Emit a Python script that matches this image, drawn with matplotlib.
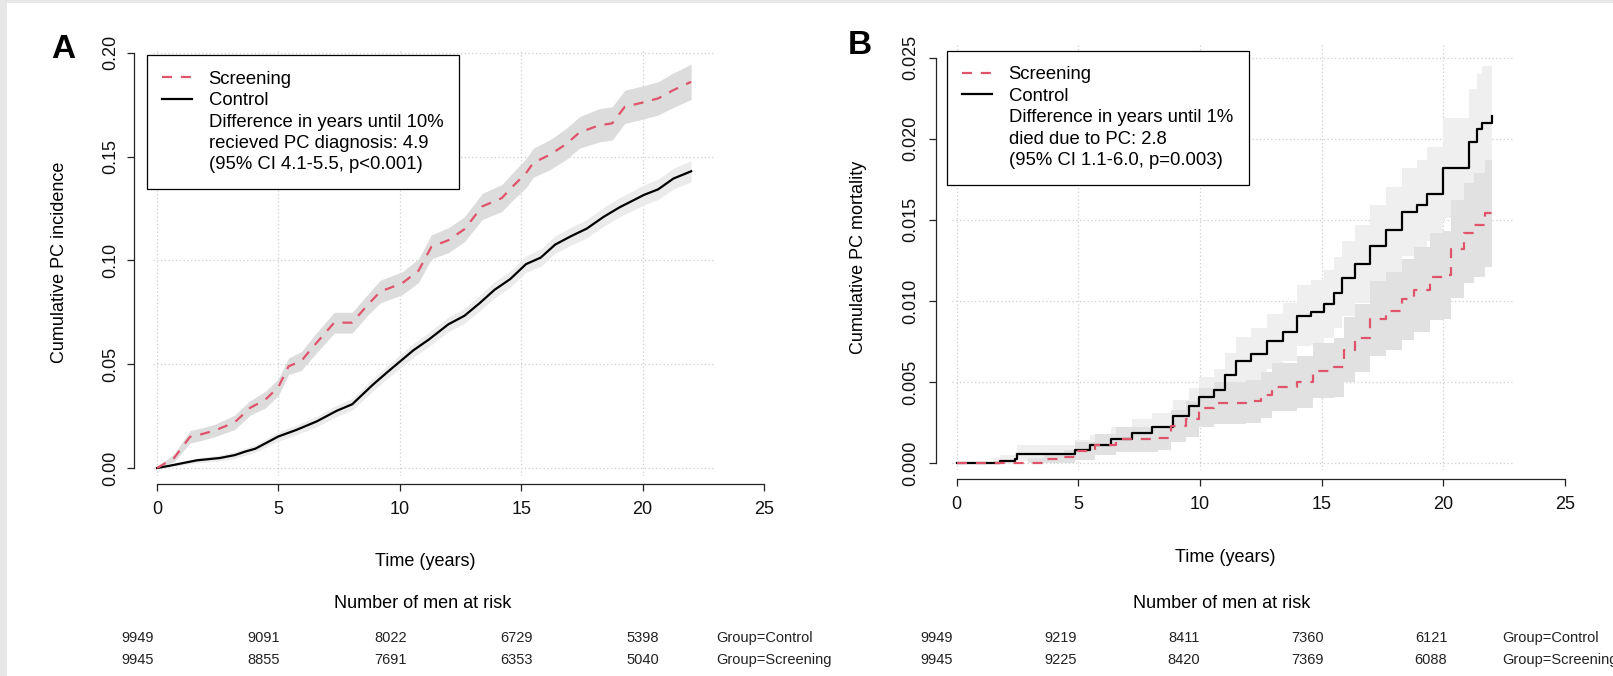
import matplotlib
matplotlib.use("Agg")
import matplotlib.pyplot as plt
from matplotlib.lines import Line2D
from matplotlib.patches import Rectangle
from matplotlib.ticker import FormatStrFormatter

plt.rcParams["font.family"] = ["Liberation Sans", "DejaVu Sans"]

W, H = 1613, 676
RED = "#DF536B"

# ---------------- panel A: cumulative PC incidence ----------------
a_scr_t = [0.0, 0.7, 1.36, 1.74, 2.37, 3.2, 3.84, 4.47, 5.0, 5.42, 5.94, 6.46, 7.3, 8.04,
           8.67, 9.2, 10.1, 10.77, 11.3, 12.0, 12.66, 13.4, 14.2, 14.65, 15.2, 15.5, 16.2,
           16.85, 17.4, 18.2, 18.75, 19.27, 20.0, 20.64, 21.27, 22.0]
a_scr_v = [0.0, 0.0048, 0.015, 0.016, 0.018, 0.022, 0.029, 0.033, 0.039, 0.049, 0.0515,
           0.0588, 0.070, 0.070, 0.0785, 0.085, 0.089, 0.095, 0.1065, 0.1097, 0.115, 0.126,
           0.130, 0.1356, 0.142, 0.147, 0.151, 0.156, 0.1616, 0.165, 0.166, 0.174, 0.176,
           0.178, 0.182, 0.186]
a_scr_lo = [0.0, 0.0030, 0.012, 0.013, 0.015, 0.0185, 0.0255, 0.029, 0.035, 0.045, 0.047,
            0.054, 0.065, 0.065, 0.0735, 0.0795, 0.0835, 0.0893, 0.1007, 0.1037, 0.109,
            0.1197, 0.1235, 0.129, 0.135, 0.140, 0.1438, 0.1485, 0.154, 0.157, 0.158, 0.166,
            0.168, 0.170, 0.1737, 0.1775]
a_scr_hi = [0.0005, 0.0068, 0.018, 0.019, 0.021, 0.0255, 0.0325, 0.037, 0.043, 0.053, 0.056,
            0.0636, 0.075, 0.075, 0.0835, 0.0905, 0.0945, 0.1007, 0.1123, 0.1157, 0.121,
            0.1323, 0.1365, 0.1422, 0.149, 0.154, 0.1582, 0.1635, 0.1692, 0.173, 0.174,
            0.182, 0.184, 0.186, 0.1903, 0.1945]

a_ctl_t = [0.0, 0.48, 1.64, 2.58, 3.2, 3.63, 4.05, 5.0, 5.73, 6.57, 7.41, 8.04, 8.88, 9.5,
           10.03, 10.56, 11.2, 12.0, 12.66, 13.3, 13.9, 14.55, 15.2, 15.8, 16.4, 17.06,
           17.7, 18.4, 19.06, 19.6, 20.05, 20.64, 21.27, 22.0]
a_ctl_v = [0.0, 0.001, 0.0037, 0.0048, 0.0062, 0.0079, 0.0093, 0.0152, 0.0183, 0.0224,
           0.0276, 0.0307, 0.040, 0.0463, 0.0515, 0.0567, 0.0619, 0.0692, 0.0733, 0.0795,
           0.0858, 0.091, 0.0982, 0.1013, 0.1076, 0.1117, 0.1153, 0.121, 0.1256, 0.1288,
           0.1315, 0.1342, 0.1394, 0.1429]
a_ctl_lo = [0.0, 0.0004, 0.0025, 0.0034, 0.0046, 0.0062, 0.0075, 0.0130, 0.0160, 0.0199,
            0.0249, 0.0279, 0.0370, 0.0432, 0.0483, 0.0534, 0.0585, 0.0657, 0.0697, 0.0758,
            0.0820, 0.0871, 0.0942, 0.0972, 0.1034, 0.1074, 0.1109, 0.1165, 0.1210, 0.1241,
            0.1267, 0.1293, 0.1344, 0.1378]
a_ctl_hi = [0.0003, 0.0016, 0.0049, 0.0062, 0.0078, 0.0096, 0.0111, 0.0174, 0.0206, 0.0249,
            0.0303, 0.0335, 0.0430, 0.0494, 0.0547, 0.0600, 0.0653, 0.0727, 0.0769, 0.0832,
            0.0896, 0.0949, 0.1022, 0.1054, 0.1118, 0.1160, 0.1197, 0.1255, 0.1302, 0.1335,
            0.1363, 0.1391, 0.1444, 0.1480]

# ---------------- panel B: cumulative PC mortality ----------------
b_ctl_t = [0.0, 1.5, 1.77, 2.4, 2.5, 4.2, 4.86, 5.5, 6.35, 7.2, 8.05, 8.9, 9.55, 9.97, 10.6,
           11.04, 11.47, 12.1, 12.75, 13.4, 14.0, 14.56, 15.1, 15.5, 15.84, 16.37, 17.0,
           17.65, 18.29, 18.9, 19.35, 19.99, 20.74, 21.05, 21.38, 21.6, 22.0]
b_ctl_v = [0.0, 0.0, 0.00013, 0.00027, 0.00056, 0.00056, 0.00082, 0.0011, 0.00146, 0.00186,
           0.0022, 0.0029, 0.0035, 0.0041, 0.0045, 0.0054, 0.0063, 0.0067, 0.0075, 0.0081,
           0.0091, 0.0093, 0.0098, 0.0105, 0.0114, 0.0123, 0.0134, 0.0144, 0.0155, 0.0159,
           0.0166, 0.0182, 0.0182, 0.0198, 0.0206, 0.021, 0.0214]
b_ctl_lo = [0.0, 0.0, 0.0, 0.0, 0.0001, 0.0001, 0.0003, 0.0005, 0.0008, 0.0011, 0.0013,
            0.0019, 0.0024, 0.0029, 0.0032, 0.0040, 0.0048, 0.0051, 0.0058, 0.0063, 0.0072,
            0.0073, 0.0077, 0.0083, 0.0091, 0.0099, 0.0109, 0.0118, 0.0128, 0.0131, 0.0137,
            0.0151, 0.0151, 0.0165, 0.0172, 0.0175, 0.0179]
b_ctl_hi = [0.0, 0.0003, 0.0005, 0.0007, 0.0011, 0.0011, 0.0014, 0.0017, 0.0022, 0.0027,
            0.0031, 0.0039, 0.0046, 0.0053, 0.0058, 0.0068, 0.0078, 0.0083, 0.0092, 0.0099,
            0.0110, 0.0113, 0.0119, 0.0127, 0.0137, 0.0147, 0.0159, 0.0170, 0.0182, 0.0187,
            0.0195, 0.0213, 0.0213, 0.0231, 0.0240, 0.0245, 0.0250]

b_scr_t = [0.0, 2.94, 3.58, 4.43, 4.86, 5.7, 6.56, 7.63, 8.27, 8.8, 9.44, 9.97, 10.6, 11.9,
           12.5, 12.96, 14.0, 14.66, 15.5, 15.94, 16.37, 17.0, 17.65, 18.29, 18.8, 19.14,
           19.46, 19.99, 20.3, 20.84, 21.27, 21.7, 22.0]
b_scr_v = [0.0, 0.0, 0.00027, 0.00035, 0.00074, 0.00114, 0.00146, 0.00146, 0.00154, 0.0023,
           0.0027, 0.0034, 0.0037, 0.0038, 0.0042, 0.0047, 0.005, 0.0057, 0.0059, 0.007,
           0.0077, 0.0089, 0.0094, 0.0101, 0.0107, 0.0107, 0.0115, 0.0116, 0.0132, 0.0142,
           0.0147, 0.0154, 0.0154]
b_scr_lo = [0.0, 0.0, 0.0, 0.0, 0.0002, 0.0005, 0.0007, 0.0007, 0.0008, 0.0013, 0.0016,
            0.0022, 0.0024, 0.0025, 0.0028, 0.0032, 0.0034, 0.0040, 0.0041, 0.0050, 0.0056,
            0.0066, 0.0070, 0.0076, 0.0081, 0.0081, 0.0088, 0.0089, 0.0102, 0.0111, 0.0115,
            0.0121, 0.0121]
b_scr_hi = [0.0, 0.0003, 0.0006, 0.0008, 0.0013, 0.0018, 0.0022, 0.0022, 0.0023, 0.0033,
            0.0038, 0.0046, 0.0050, 0.0051, 0.0056, 0.0062, 0.0066, 0.0074, 0.0077, 0.0090,
            0.0098, 0.0112, 0.0118, 0.0126, 0.0133, 0.0133, 0.0142, 0.0143, 0.0162, 0.0173,
            0.0179, 0.0187, 0.0187]

# numbers at risk
risk_times = [0, 5, 10, 15, 20]
risk_a_control = [9949, 9091, 8022, 6729, 5398]
risk_a_screening = [9945, 8855, 7691, 6353, 5040]
risk_b_control = [9949, 9219, 8411, 7360, 6121]
risk_b_screening = [9945, 9225, 8420, 7369, 6088]

legend_a = ["Screening", "Control", "Difference in years until 10%",
            "recieved PC diagnosis: 4.9", "(95% CI 4.1-5.5, p<0.001)"]
legend_b = ["Screening", "Control", "Difference in years until 1%",
            "died due to PC: 2.8", "(95% CI 1.1-6.0, p=0.003)"]


def fx(x):
    return x / W


def fy(y):
    return 1 - y / H


def box(left, top, right, bottom):
    return [left / W, 1 - bottom / H, (right - left) / W, (bottom - top) / H]


fig = plt.figure(figsize=(W / 100, H / 100), dpi=100, facecolor="#e7e7e7")
fig.add_artist(Rectangle((fx(7), 0), 1 - fx(7), fy(3), transform=fig.transFigure,
                         facecolor="white", edgecolor="none", zorder=-5))


def setup_axes(ax, xlim, ylim, grid_right, yticks, yfmt, left_out, bottom_out, ypad):
    ax.set_facecolor("none")
    ax.set_xlim(*xlim)
    ax.set_ylim(*ylim)
    for s in ["top", "right"]:
        ax.spines[s].set_visible(False)
    ax.spines["left"].set_position(("outward", left_out))
    ax.spines["bottom"].set_position(("outward", bottom_out))
    ax.spines["left"].set_bounds(yticks[0], yticks[-1])
    ax.spines["bottom"].set_bounds(0, 25)
    for s in ["left", "bottom"]:
        ax.spines[s].set_linewidth(0.9)
        ax.spines[s].set_color("#222222")
    ax.set_xticks([0, 5, 10, 15, 20, 25])
    ax.set_yticks(yticks)
    ax.yaxis.set_major_formatter(FormatStrFormatter(yfmt))
    ax.tick_params(axis="both", length=5, width=0.9, color="#222222",
                   labelsize=13, labelcolor="#111111")
    ax.tick_params(axis="x", pad=7.5)
    ax.tick_params(axis="y", pad=ypad, labelrotation=90)
    plt.setp(ax.get_yticklabels(), va="center")
    # dotted grid like R's grid()
    ax.hlines(yticks, xlim[0], grid_right, colors="#cfcfcf", linestyles=(0, (1, 2)),
              linewidth=0.9, zorder=0)
    for xt in [0, 5, 10, 15, 20]:
        ax.axvline(xt, color="#cfcfcf", linestyle=(0, (1, 2)), linewidth=0.9, zorder=0)


def add_legend(ax, labels, left, top):
    handles = [Line2D([], [], color=RED, lw=1.6, dashes=(4.5, 4)),
               Line2D([], [], color="black", lw=1.6)]
    handles += [Line2D([], [], color="none") for _ in range(3)]
    leg = ax.legend(handles, labels, loc="upper left", bbox_to_anchor=(fx(left), fy(top)),
                    bbox_transform=fig.transFigure, borderaxespad=0, fontsize=13.3,
                    handlelength=1.6, handletextpad=0.9, borderpad=0.85,
                    labelspacing=0.24, fancybox=False, framealpha=1, edgecolor="black")
    leg.get_frame().set_linewidth(0.9)
    leg.set_zorder(10)


def add_risk(ax_box, xlim, ctl, scr):
    axr = fig.add_axes(ax_box)
    axr.set_xlim(*xlim)
    axr.set_ylim(0, 1)
    axr.axis("off")
    for t, c, s in zip(risk_times, ctl, scr):
        axr.text(t, 0.68, str(c), ha="center", va="center", fontsize=10.5, color="#222222")
        axr.text(t, 0.29, str(s), ha="center", va="center", fontsize=10.5, color="#222222")
    axr.text(22.9, 0.68, "Group=Control", ha="left", va="center", fontsize=10.5,
             color="#222222")
    axr.text(22.9, 0.29, "Group=Screening", ha="left", va="center", fontsize=10.5,
             color="#222222")


# ---- panel A
axA = fig.add_axes(box(153, 49, 766.4, 476))
setup_axes(axA, (-0.165, 25.1), (-0.00385, 0.2018), 22.94,
           [0, 0.05, 0.10, 0.15, 0.20], "%.2f", 13.7, 5.8, 5.5)
axA.fill_between(a_ctl_t, a_ctl_lo, a_ctl_hi, color="#ebebeb", lw=0, zorder=1)
axA.fill_between(a_scr_t, a_scr_lo, a_scr_hi, color="#dcdcdc", lw=0, zorder=1)
axA.plot(a_ctl_t, a_ctl_v, color="black", lw=1.6, zorder=3)
axA.plot(a_scr_t, a_scr_v, color=RED, lw=1.6, dashes=(4.5, 4), zorder=3)
add_legend(axA, legend_a, 146.7, 55)

fig.text(fx(60), fy(262), "Cumulative PC incidence", rotation=90, ha="center",
         va="center", fontsize=13)
fig.text(fx(425), fy(561), "Time (years)", ha="center", va="center", fontsize=13)
fig.text(fx(423), fy(604), "Number of men at risk", ha="center", va="center", fontsize=13)
fig.text(fx(63), fy(50), "A", ha="center", va="center", fontsize=24, fontweight="bold")
add_risk(box(137.5, 620, 137.5 + 25 * 25.28, 676), (0, 25), risk_a_control, risk_a_screening)

# ---- panel B
axB = fig.add_axes(box(952, 44, 1567.4, 470))
setup_axes(axB, (-0.185, 25.1), (-0.00043, 0.02585), 22.86,
           [0, 0.005, 0.010, 0.015, 0.020, 0.025], "%.3f", 11.5, 6.5, 7)
axB.fill_between(b_ctl_t, b_ctl_lo, b_ctl_hi, step="post", color="#efefef", lw=0, zorder=1)
axB.fill_between(b_scr_t, b_scr_lo, b_scr_hi, step="post", color="#e1e1e1", lw=0, zorder=1)
axB.plot(b_ctl_t, b_ctl_v, color="black", lw=1.6, drawstyle="steps-post", zorder=3)
axB.plot(b_scr_t, b_scr_v, color=RED, lw=1.6, dashes=(4.5, 4), drawstyle="steps-post",
         zorder=3)
add_legend(axB, legend_b, 946.7, 50.7)

fig.text(fx(858.6), fy(257), "Cumulative PC mortality", rotation=90, ha="center",
         va="center", fontsize=13)
fig.text(fx(1225), fy(557), "Time (years)", ha="center", va="center", fontsize=13)
fig.text(fx(1222), fy(603), "Number of men at risk", ha="center", va="center", fontsize=13)
fig.text(fx(860), fy(46), "B", ha="center", va="center", fontsize=24, fontweight="bold")
add_risk(box(937, 620, 937 + 25 * 24.7, 676), (0, 25), risk_b_control, risk_b_screening)

fig.savefig("out.png", dpi=100, facecolor=fig.get_facecolor())
